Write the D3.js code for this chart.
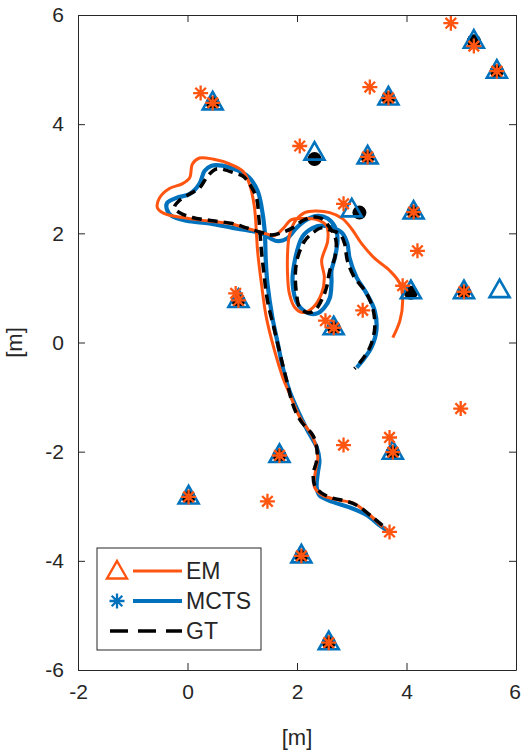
<!DOCTYPE html>
<html>
<head>
<meta charset="utf-8">
<script src="https://cdn.jsdelivr.net/npm/d3@7"></script>
<style>
  body { margin: 0; background: #fff; }
  svg text { font-family: "Liberation Sans", Arial, Helvetica, sans-serif; fill: #262626; }
</style>
</head>
<body>
<svg width="521" height="752"></svg>
<script>
// Tick values
const xTicks = [-2, 0, 2, 4, 6];
const yTicks = [-6, -4, -2, 0, 2, 4, 6];

// Ground truth trajectory [x, y] in metres
const gtPath = [[3.56,-3.35],[3.38,-3.20],[3.09,-2.98],[2.91,-2.91],[2.65,-2.85],[2.45,-2.76],[2.32,-2.61],[2.30,-2.39],[2.36,-2.16],[2.36,-1.92],[2.29,-1.70],[2.10,-1.48],[1.99,-1.30],[1.90,-1.06],[1.81,-0.69],[1.72,-0.33],[1.59,0.22],[1.46,0.77],[1.39,1.32],[1.35,1.68],[1.33,1.95],[1.30,2.32],[1.26,2.65],[1.13,2.91],[1.01,3.05],[0.90,3.09],[0.53,3.18],[0.37,3.05],[0.22,2.83],[0.04,2.72],[-0.15,2.60],[-0.24,2.47],[-0.15,2.38],[0.09,2.29],[0.46,2.23],[0.82,2.18],[1.08,2.10],[1.37,2.01],[1.54,1.97],[1.72,2.01],[1.92,2.10],[2.10,2.23],[2.29,2.30],[2.45,2.27],[2.60,2.10],[2.71,1.88],[2.69,1.55],[2.60,1.32],[2.54,1.01],[2.47,0.82],[2.32,0.58],[2.18,0.55],[2.05,0.64],[1.99,0.90],[1.97,1.26],[2.01,1.55],[2.14,1.86],[2.29,2.01],[2.45,2.10],[2.63,2.05],[2.78,1.99],[2.87,1.81],[2.92,1.50],[3.05,1.19],[3.24,0.95],[3.38,0.64],[3.42,0.27],[3.33,-0.09],[3.14,-0.38],[3.05,-0.48]];

// MCTS estimated trajectory
const mctsPath = [[3.64,-3.44],[3.51,-3.35],[3.27,-3.16],[2.96,-3.02],[2.65,-2.92],[2.41,-2.80],[2.36,-2.65],[2.38,-2.39],[2.41,-2.16],[2.36,-1.92],[2.19,-1.61],[2.01,-1.24],[1.86,-0.88],[1.74,-0.46],[1.65,-0.02],[1.55,0.46],[1.46,1.08],[1.43,1.50],[1.41,2.05],[1.35,2.50],[1.28,2.78],[1.13,3.02],[0.95,3.14],[0.64,3.24],[0.44,3.24],[0.31,3.14],[0.22,2.91],[0.04,2.72],[-0.20,2.65],[-0.37,2.56],[-0.38,2.45],[-0.29,2.32],[-0.02,2.23],[0.40,2.18],[0.82,2.10],[1.13,2.05],[1.37,1.99],[1.63,1.86],[1.81,1.90],[1.99,2.10],[2.18,2.25],[2.38,2.32],[2.56,2.27],[2.71,2.08],[2.74,1.86],[2.69,1.55],[2.63,1.32],[2.63,1.10],[2.60,0.82],[2.50,0.64],[2.36,0.53],[2.18,0.55],[2.01,0.71],[1.92,1.08],[1.96,1.50],[2.10,1.94],[2.29,2.10],[2.47,2.14],[2.65,2.10],[2.82,2.01],[2.92,1.81],[2.96,1.55],[3.09,1.19],[3.27,0.90],[3.42,0.58],[3.45,0.22],[3.36,-0.09],[3.20,-0.33],[3.09,-0.46]];

// EM estimated trajectory
const emPath = [[3.56,-3.38],[3.33,-3.16],[3.02,-2.94],[2.78,-2.89],[2.47,-2.80],[2.32,-2.65],[2.34,-2.34],[2.38,-2.10],[2.29,-1.74],[2.05,-1.37],[1.86,-0.93],[1.74,-0.64],[1.59,-0.15],[1.44,0.46],[1.35,1.08],[1.28,1.68],[1.26,1.99],[1.22,2.50],[1.13,2.91],[1.01,3.14],[0.77,3.27],[0.46,3.36],[0.22,3.38],[0.09,3.27],[0.04,3.02],[-0.09,2.91],[-0.33,2.82],[-0.51,2.65],[-0.55,2.47],[-0.42,2.36],[-0.09,2.29],[0.35,2.23],[0.77,2.18],[1.13,2.08],[1.44,1.99],[1.59,1.96],[1.74,2.08],[1.90,2.25],[2.14,2.27],[2.36,2.25],[2.54,2.14],[2.56,1.86],[2.45,1.50],[2.50,1.19],[2.45,0.90],[2.29,0.64],[2.10,0.55],[1.96,0.64],[1.86,0.90],[1.83,1.19],[1.83,1.68],[1.86,1.96],[1.97,2.23],[2.14,2.38],[2.34,2.41],[2.60,2.38],[2.83,2.27],[3.00,2.08],[3.18,1.81],[3.42,1.54],[3.69,1.32],[3.88,1.08],[3.93,0.77],[3.88,0.40],[3.75,0.09]];

// Landmarks
const gtLandmarks = [[5.23,5.52],[5.65,4.97],[0.46,4.39],[3.67,4.48],[2.32,3.36],[3.29,3.40],[3.14,2.38],[4.13,2.39],[4.08,0.91],[5.05,0.93],[2.67,0.27],[0.93,0.77],[3.75,-2.01],[1.68,-2.07],[0.02,-2.83],[2.08,-3.91],[2.58,-5.50]];
const emLandmarks = [[5.23,5.52],[5.65,4.97],[0.46,4.39],[3.67,4.48],[2.32,3.47],[3.29,3.40],[3.00,2.43],[4.13,2.39],[4.08,0.93],[5.05,0.93],[5.70,0.95],[2.67,0.27],[0.93,0.77],[3.75,-2.01],[1.68,-2.07],[0.02,-2.83],[2.08,-3.91],[2.58,-5.50]];
const mctsLandmarks = [[4.81,5.85],[5.23,5.43],[5.65,4.97],[0.24,4.57],[0.46,4.39],[3.33,4.68],[3.67,4.48],[2.05,3.60],[3.29,3.40],[2.85,2.54],[4.13,2.39],[4.20,1.68],[3.93,1.04],[5.05,0.93],[3.20,0.59],[2.52,0.40],[2.67,0.27],[0.88,0.90],[0.93,0.77],[4.99,-1.21],[3.69,-1.74],[3.75,-2.01],[2.85,-1.88],[1.68,-2.07],[1.46,-2.91],[0.02,-2.83],[3.69,-3.47],[2.08,-3.91],[2.58,-5.50]];

const legendItems = ["EM", "MCTS", "GT"];

const orange = "#FF5511";
const blue = "#0072BD";
const axisColor = "#262626";

const svg = d3.select("svg");
const margin = { top: 15, right: 5, bottom: 82, left: 78 };
const width = +svg.attr("width");
const height = +svg.attr("height");

const x = d3.scaleLinear().domain([-2, 6]).range([margin.left, width - margin.right]);
const y = d3.scaleLinear().domain([-6, 6]).range([height - margin.bottom, margin.top]);

const line = d3.line()
  .x(d => x(d[0]))
  .y(d => y(d[1]))
  .curve(d3.curveCatmullRom.alpha(0.5));

// Trajectories
svg.append("path").datum(mctsPath)
  .attr("d", line).attr("fill", "none")
  .attr("stroke", blue).attr("stroke-width", 4.2).attr("stroke-linejoin", "round");

svg.append("path").datum(emPath)
  .attr("d", line).attr("fill", "none")
  .attr("stroke", orange).attr("stroke-width", 3).attr("stroke-linejoin", "round");

svg.append("path").datum(gtPath)
  .attr("d", line).attr("fill", "none")
  .attr("stroke", "#000").attr("stroke-width", 3.5)
  .attr("stroke-dasharray", "10,6");

// Landmark markers
const triPath = "M0,-11L10,6.5L-10,6.5Z";
const starPath = "M0,-7.5V7.5M-7.5,0H7.5M-5.3,-5.3L5.3,5.3M-5.3,5.3L5.3,-5.3";

svg.append("g").selectAll("circle").data(gtLandmarks).join("circle")
  .attr("cx", d => x(d[0])).attr("cy", d => y(d[1]))
  .attr("r", 7).attr("fill", "#000");

svg.append("g").selectAll("path").data(emLandmarks).join("path")
  .attr("d", triPath)
  .attr("transform", d => `translate(${x(d[0])},${y(d[1])})`)
  .attr("fill", "none").attr("stroke", blue).attr("stroke-width", 2.6);

svg.append("g").selectAll("path").data(mctsLandmarks).join("path")
  .attr("d", starPath)
  .attr("transform", d => `translate(${x(d[0])},${y(d[1])})`)
  .attr("fill", "none").attr("stroke", orange).attr("stroke-width", 2.3);

// Axes (box with inward ticks)
const plotW = width - margin.left - margin.right;
const plotH = height - margin.top - margin.bottom;
const fmt = d => String(d);

function styleAxis(g) {
  g.select(".domain").attr("stroke", axisColor);
  g.selectAll(".tick line").attr("stroke", axisColor);
  g.selectAll(".tick text").attr("fill", axisColor)
    .style("font-family", '"Liberation Sans", Arial, sans-serif').style("font-size", "21px");
}

svg.append("g")
  .attr("transform", `translate(0,${height - margin.bottom})`)
  .call(d3.axisBottom(x).tickValues(xTicks).tickSizeInner(-7).tickSizeOuter(0).tickPadding(14).tickFormat(fmt))
  .call(styleAxis)
  .call(g => g.selectAll(".tick text").filter(d => d === 6).attr("dx", -1.5));

svg.append("g")
  .attr("transform", `translate(0,${margin.top})`)
  .call(d3.axisTop(x).tickValues(xTicks).tickSizeInner(-7).tickSizeOuter(0).tickFormat(""))
  .call(styleAxis);

svg.append("g")
  .attr("transform", `translate(${margin.left},0)`)
  .call(d3.axisLeft(y).tickValues(yTicks).tickSizeInner(-7).tickSizeOuter(0).tickPadding(14).tickFormat(fmt))
  .call(styleAxis);

svg.append("g")
  .attr("transform", `translate(${width - margin.right},0)`)
  .call(d3.axisRight(y).tickValues(yTicks).tickSizeInner(-7).tickSizeOuter(0).tickFormat(""))
  .call(styleAxis);

// Axis labels
svg.append("text")
  .attr("x", margin.left + plotW / 2).attr("y", 745)
  .attr("text-anchor", "middle").style("font-size", "22px").text("[m]");

svg.append("text")
  .attr("transform", `translate(22,${margin.top + plotH / 2}) rotate(-90)`)
  .attr("text-anchor", "middle").style("font-size", "22px").text("[m]");

// Legend
const legend = svg.append("g");
legend.append("rect")
  .attr("x", 97).attr("y", 548).attr("width", 164).attr("height", 102)
  .attr("fill", "#fff").attr("stroke", axisColor).attr("stroke-width", 1);

const rowY = [571, 601, 631];
legendItems.forEach((name, i) => {
  const yy = rowY[i];
  if (name === "EM") {
    legend.append("path").attr("d", triPath)
      .attr("transform", `translate(117,${yy + 1})`)
      .attr("fill", "none").attr("stroke", orange).attr("stroke-width", 2.4);
    legend.append("line").attr("x1", 133).attr("x2", 182).attr("y1", yy).attr("y2", yy)
      .attr("stroke", orange).attr("stroke-width", 3);
  } else if (name === "MCTS") {
    legend.append("path").attr("d", starPath)
      .attr("transform", `translate(117,${yy})`)
      .attr("fill", "none").attr("stroke", blue).attr("stroke-width", 2.3);
    legend.append("line").attr("x1", 133).attr("x2", 182).attr("y1", yy).attr("y2", yy)
      .attr("stroke", blue).attr("stroke-width", 4.2);
  } else {
    legend.append("line").attr("x1", 110).attr("x2", 182).attr("y1", yy).attr("y2", yy)
      .attr("stroke", "#000").attr("stroke-width", 3.5).attr("stroke-dasharray", "18,10");
  }
  legend.append("text").attr("x", 186).attr("y", yy + 8)
    .style("font-size", "23px").attr("fill", "#000").text(name);
});
</script>
</body>
</html>
